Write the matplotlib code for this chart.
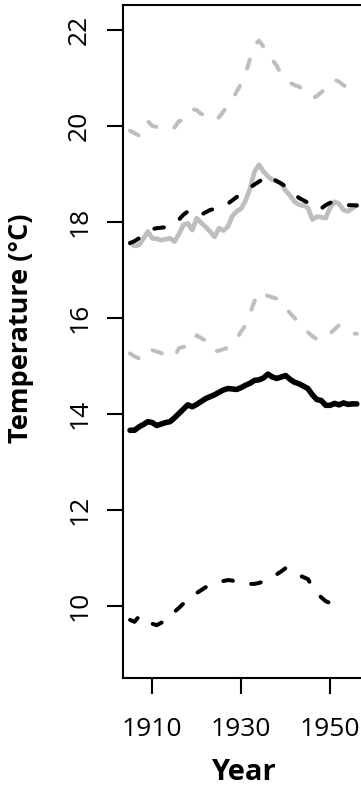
import numpy as np
import matplotlib
matplotlib.use('Agg')
import matplotlib.pyplot as plt

plt.rcParams['font.family'] = ['Open Sans', 'DejaVu Sans']
plt.rcParams['lines.scale_dashes'] = False

# data
years = np.arange(1905, 1957)
years_low = np.arange(1905, 1954)

gray_dash_top = [19.90, 19.85, 19.80, 19.88, 20.10, 20.00, 19.98, 19.95, 19.93, 19.92,
                 19.97, 20.10, 20.12, 20.22, 20.35, 20.33, 20.25, 20.22, 20.15, 20.12,
                 20.18, 20.30, 20.42, 20.55, 20.72, 20.88, 21.10, 21.40, 21.68, 21.78,
                 21.65, 21.52, 21.38, 21.25, 21.08, 20.98, 20.90, 20.85, 20.82, 20.75,
                 20.68, 20.58, 20.62, 20.70, 20.78, 20.90, 20.96, 20.92, 20.85, 20.78,
                 20.88, 20.85]
black_dash_top = [17.56, 17.60, 17.66, 17.72, 17.80, 17.85, 17.87, 17.88, 17.89, 17.90,
                  17.95, 18.05, 18.15, 18.22, 18.15, 18.12, 18.15, 18.20, 18.25, 18.27,
                  18.30, 18.32, 18.38, 18.45, 18.52, 18.60, 18.66, 18.72, 18.78, 18.84,
                  18.90, 18.98, 18.90, 18.85, 18.80, 18.74, 18.68, 18.58, 18.50, 18.45,
                  18.40, 18.33, 18.26, 18.28, 18.35, 18.40, 18.42, 18.40, 18.37, 18.35,
                  18.35, 18.34]
gray_solid = [17.56, 17.50, 17.52, 17.65, 17.80, 17.66, 17.65, 17.62, 17.64, 17.66,
              17.59, 17.75, 17.94, 17.97, 17.83, 18.08, 17.98, 17.90, 17.80, 17.69,
              17.87, 17.82, 17.90, 18.12, 18.22, 18.28, 18.45, 18.70, 19.05, 19.19,
              19.05, 18.95, 18.88, 18.85, 18.80, 18.65, 18.55, 18.42, 18.36, 18.34,
              18.30, 18.05, 18.11, 18.10, 18.08, 18.30, 18.42, 18.38, 18.25, 18.22,
              18.28, 18.36]
gray_dash_mid = [15.26, 15.20, 15.16, 15.22, 15.36, 15.33, 15.30, 15.27, 15.24, 15.20,
                 15.19, 15.37, 15.40, 15.40, 15.42, 15.64, 15.58, 15.53, 15.48, 15.30,
                 15.32, 15.35, 15.38, 15.48, 15.57, 15.72, 15.85, 16.10, 16.35, 16.55,
                 16.50, 16.46, 16.43, 16.40, 16.36, 16.22, 16.10, 16.00, 15.92, 15.80,
                 15.70, 15.62, 15.56, 15.54, 15.62, 15.68, 15.76, 15.85, 15.80, 15.72,
                 15.68, 15.67]
black_solid = [13.66, 13.66, 13.73, 13.78, 13.84, 13.82, 13.76, 13.79, 13.82, 13.84,
               13.92, 14.01, 14.10, 14.19, 14.15, 14.20, 14.26, 14.32, 14.36, 14.40,
               14.45, 14.50, 14.53, 14.52, 14.51, 14.55, 14.60, 14.64, 14.70, 14.71,
               14.75, 14.83, 14.77, 14.74, 14.77, 14.80, 14.72, 14.66, 14.63, 14.58,
               14.53, 14.40, 14.30, 14.28, 14.18, 14.18, 14.22, 14.19, 14.23, 14.20,
               14.21, 14.21]
black_dash_low = [9.71, 9.67, 9.78, 9.70, 9.62, 9.63, 9.60, 9.65, 9.69, 9.78,
                  9.88, 9.96, 10.05, 10.13, 10.20, 10.27, 10.33, 10.39, 10.44, 10.46,
                  10.50, 10.52, 10.54, 10.53, 10.49, 10.47, 10.46, 10.46, 10.46, 10.48,
                  10.51, 10.55, 10.60, 10.66, 10.72, 10.79, 10.72, 10.68, 10.64, 10.60,
                  10.56, 10.40, 10.28, 10.18, 10.10, 10.06, 10.02, 10.04, 10.04]

gray = '#bebebe'
dash = (0, (7, 13.5))
dlw = 2.9

fig = plt.figure(figsize=(3.61, 7.88), dpi=100)
ax = fig.add_axes([0.3399, 0.1390, 0.667, 0.8547])

ax.plot(years, gray_dash_top, color=gray, lw=dlw, linestyle=dash, dash_capstyle='round')
ax.plot(years, gray_solid, color=gray, lw=3.4, solid_joinstyle='round', solid_capstyle='round')
ax.plot(years, gray_dash_mid, color=gray, lw=dlw, linestyle=dash, dash_capstyle='round')
ax.plot(years, black_dash_top, color='black', lw=dlw, linestyle=dash, dash_capstyle='round')
ax.plot(years, black_solid, color='black', lw=4.0, solid_joinstyle='round', solid_capstyle='round')
ax.plot(years_low, black_dash_low, color='black', lw=dlw, linestyle=dash, dash_capstyle='round')

ax.set_xlim(1903.35, 1957.5)
ax.set_ylim(8.49, 22.52)
ax.set_xticks([1910, 1930, 1950])
ax.set_yticks([10, 12, 14, 16, 18, 20, 22])

for s in ax.spines.values():
    s.set_linewidth(1.5)
ax.tick_params(length=11.5, width=1.5, labelsize=19)
ax.tick_params(axis='x', pad=16)
ax.tick_params(axis='y', labelrotation=90, pad=10.5)
for lab in ax.get_yticklabels():
    lab.set_va('center')

fig.text(243 / 361, 1 - 773 / 788, 'Year', ha='center', va='center',
         fontsize=21, fontweight='bold')
fig.text(21.5 / 361, 1 - 328 / 788, 'Temperature (°C)', ha='center', va='center',
         rotation=90, fontsize=19.5, fontweight='bold')

fig.savefig('out.png', dpi=100)
